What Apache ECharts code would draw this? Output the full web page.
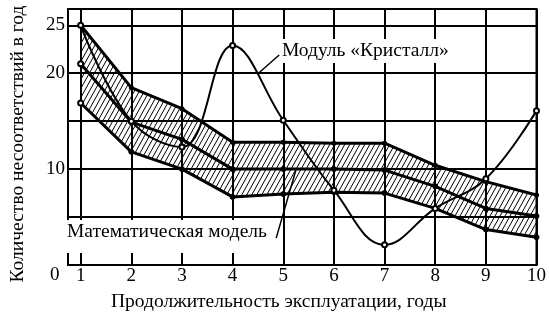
<!DOCTYPE html>
<html><head><meta charset="utf-8">
<script src="https://cdn.jsdelivr.net/npm/echarts@6/dist/echarts.min.js"></script>
<style>html,body{margin:0;padding:0;background:#fff}#c{width:549px;height:319px}</style>
</head><body><div id="c"></div>
<script>
// ---- data ----
const years = [1, 2, 3, 4, 5, 6, 7, 8, 9, 10];
const upperBound = [25, 18.5, 16.3, 12.8, 12.8, 12.7, 12.7, 10.4, 8.7, 7.3];
const modelMean  = [21, 14.9, 13.1, 10, 10, 10, 9.9, 8.2, 5.9, 5.1];
const lowerBound = [16.9, 11.8, 10, 7.1, 7.4, 7.6, 7.5, 5.9, 3.7, 2.9];
const kristall   = [25, 15, 12.3, 22.9, 15.1, 7.8, 2.1, 5.9, 9.0, 16.1];
const xTickValues = [1, 2, 3, 4, 5, 6, 7, 8, 9, 10];
const yGridValues = [5, 10, 15, 20, 25];
const yLabelValues = [10, 20, 25];
const xTitle = 'Продолжительность эксплуатации, годы';
const yTitle = 'Количество несоответствий в год';
const kristallLabel = 'Модуль «Кристалл»';
const modelLabel = 'Математическая модель';
const originLabel = '0';
// pointer lines (data coordinates)
const kristallPointer = [[4.92, 21.9], [4.51, 20.0]];
const modelPointer = [[4.86, 2.8], [5.25, 9.9]];

const FONT = 'Liberation Serif';
const TXT = 19.5;

function hatchCanvas() {
  const w = 5, h = 9;
  const c = document.createElement('canvas');
  c.width = w; c.height = h;
  const g = c.getContext('2d');
  g.strokeStyle = '#000'; g.lineWidth = 1;
  g.beginPath();
  for (const x0 of [-w, 0, w]) { g.moveTo(x0, h); g.lineTo(x0 + w, 0); }
  g.stroke();
  return c;
}
const hatch = hatchCanvas();

function pairs(vals, openFirst) {
  return vals.map((v, i) => (openFirst && i === 0)
    ? { value: [years[i], v], symbol: 'emptyCircle' }
    : [years[i], v]);
}

const chart = echarts.init(document.getElementById('c'), null, { renderer: 'canvas' });
chart.setOption({
  animation: false,
  backgroundColor: '#fff',
  textStyle: { fontFamily: FONT, color: '#000' },
  grid: { left: 64, top: 9, right: 8, bottom: 54, show: true, borderColor: '#000', borderWidth: 2, backgroundColor: 'transparent' },
  xAxis: {
    type: 'value', min: 0.75, max: 10,
    axisLine: { show: true, onZero: false, lineStyle: { color: '#000', width: 2 } },
    axisTick: { show: false, customValues: xTickValues },
    axisLabel: { customValues: xTickValues, margin: 2, fontSize: 19, fontFamily: FONT, color: '#000' },
    splitLine: { show: true, lineStyle: { color: '#000', width: 2 } },
    name: xTitle, nameLocation: 'middle', nameGap: 27,
    nameTextStyle: { fontSize: TXT, fontFamily: FONT, color: '#000', padding: [0, 47, 0, 0] }
  },
  yAxis: {
    type: 'value', min: 0, max: 26.7,
    axisLine: { show: true, lineStyle: { color: '#000', width: 2 } },
    axisTick: { show: false, customValues: yGridValues },
    axisLabel: { customValues: yLabelValues, margin: 3, fontSize: 19, fontFamily: FONT, color: '#000' },
    splitLine: { show: true, lineStyle: { color: '#000', width: 2 } },
    name: yTitle, nameLocation: 'middle', nameGap: 40,
    nameTextStyle: { fontSize: TXT, fontFamily: FONT, color: '#000', padding: [0, 14, 0, 0] }
  },
  series: [
    {
      name: 'band', type: 'custom', z: 1, silent: true,
      data: years.map((x, i) => [x, lowerBound[i], upperBound[i]]),
      encode: { x: 0, y: [1, 2] },
      renderItem: function (params, api) {
        if (params.dataIndex !== 0) return null;
        const n = params.dataInsideLength;
        const top = [], bot = [];
        for (let i = 0; i < n; i++) {
          const x = api.value(0, i);
          top.push(api.coord([x, api.value(2, i)]));
          bot.push(api.coord([x, api.value(1, i)]));
        }
        return {
          type: 'polygon',
          shape: { points: top.concat(bot.reverse()) },
          style: { fill: { image: hatch, repeat: 'repeat' }, stroke: null }
        };
      }
    },
    {
      name: 'lower', type: 'line', z: 4,
      data: pairs(lowerBound, true),
      lineStyle: { color: '#000', width: 3 },
      itemStyle: { color: '#000', borderColor: '#000', borderWidth: 1 },
      symbol: 'circle', symbolSize: 5
    },
    {
      name: 'upper', type: 'line', z: 4,
      data: pairs(upperBound, false),
      lineStyle: { color: '#000', width: 3 },
      itemStyle: { color: '#000' },
      symbol: 'circle', symbolSize: 5
    },
    {
      name: 'mean', type: 'line', z: 4,
      data: pairs(modelMean, true),
      lineStyle: { color: '#000', width: 3 },
      itemStyle: { color: '#000', borderColor: '#000', borderWidth: 1 },
      symbol: 'circle', symbolSize: 5
    },
    {
      name: 'kristall', type: 'line', smooth: 0.4, z: 5,
      data: pairs(kristall, false),
      lineStyle: { color: '#000', width: 2 },
      itemStyle: { color: '#000', borderColor: '#000', borderWidth: 1 },
      symbol: 'emptyCircle', symbolSize: 5,
      markLine: {
        silent: true, animation: false, symbol: ['none', 'none'],
        label: { show: false },
        lineStyle: { color: '#000', width: 1.5, type: 'solid' },
        data: [
          [{ coord: kristallPointer[0] }, { coord: kristallPointer[1] }],
          [{ coord: modelPointer[0] }, { coord: modelPointer[1] }]
        ]
      }
    }
  ],
  graphic: [
    {
      type: 'text', left: 280, top: 39, z: 100,
      style: { text: kristallLabel, font: TXT + 'px "' + FONT + '"', fill: '#000', backgroundColor: '#fff', padding: [2, 2, 2, 2] }
    },
    {
      type: 'text', left: 66, top: 220, z: 100,
      style: { text: modelLabel, font: TXT + 'px "' + FONT + '"', fill: '#000', backgroundColor: '#fff', padding: [2, 3, 11, 1] }
    },
    {
      type: 'text', left: 50, top: 266, z: 100,
      style: { text: originLabel, font: '19px "' + FONT + '"', fill: '#000' }
    }
  ]
});
</script>
</body></html>
